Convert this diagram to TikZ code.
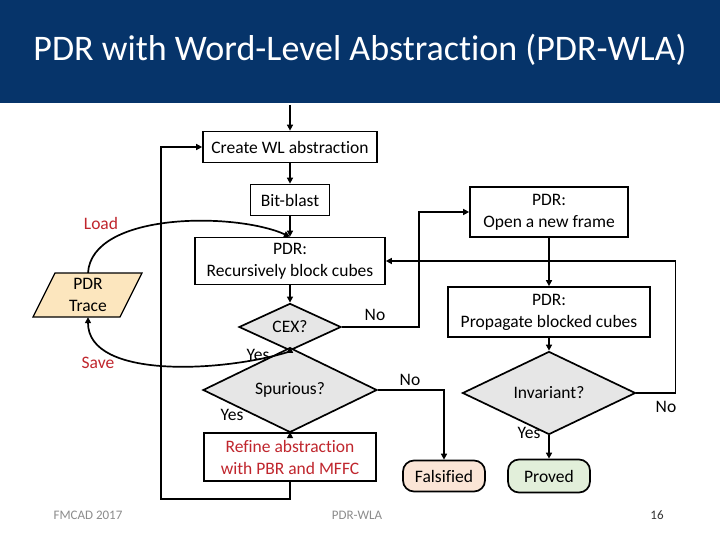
\documentclass[tikz,border=0pt]{standalone}
\usepackage{fontspec}
\setmainfont[Ligatures={NoCommon}]{Carlito}
\usetikzlibrary{shapes.geometric,arrows.meta,calc}
\definecolor{titlebg}{HTML}{06346A}
\definecolor{darkred}{HTML}{C0262D}
\definecolor{diagray}{HTML}{E6E6E6}
\definecolor{peach}{HTML}{FBE5D6}
\definecolor{mint}{HTML}{E2EFDA}
\definecolor{beige}{HTML}{FCE6BE}
\definecolor{footgray}{HTML}{8C8C8C}
\tikzset{
  box/.style={draw, line width=1.7pt, fill=white, align=center, inner sep=0pt, font=\fontsize{17.5}{22}\selectfont},
  dia/.style={diamond, draw, line width=1.7pt, fill=diagray, inner sep=0pt, font=\fontsize{17.5}{22}\selectfont},
  term/.style={draw, line width=1.7pt, rounded corners=11pt, inner sep=0pt, font=\fontsize{17.5}{22}\selectfont},
  lbl/.style={font=\fontsize{17.5}{22}\selectfont},
  redlbl/.style={font=\fontsize{17.5}{22}\selectfont, text=darkred},
  arr/.style={line width=1.7pt, -{Triangle[length=6pt,width=6pt]}},
  foot/.style={font=\fontsize{13}{15}\selectfont, text=footgray},
}
\begin{document}
\begin{tikzpicture}[x=1pt,y=-1pt]
\useasboundingbox (0,0) rectangle (720,540);
\fill[white] (0,0) rectangle (720,540);
\fill[titlebg] (0,0) rectangle (720,103);
\node[text=white, font=\fontsize{36}{40}\selectfont] (title) at (360,50) {PDR with Word-Level Abstraction (PDR-WLA)};

% nodes
\node[box, minimum width=174, minimum height=31] (create) at (290,147) {Create WL abstraction};
\node[box, minimum width=79, minimum height=31] (bitblast) at (290,200) {Bit-blast};
\node[box, minimum width=190, minimum height=47] (recur) at (290,261) {PDR:\\Recursively block cubes};
\node[box, minimum width=158, minimum height=50] (open) at (549,212) {PDR:\\Open a new frame};
\node[box, minimum width=202, minimum height=50] (prop) at (549,312) {PDR:\\Propagate blocked cubes};
\node[dia, minimum width=102, minimum height=45] (cex) at (290,327) {CEX?};
\node[dia, minimum width=174, minimum height=43] (spur) at (290,390) {Spurious?};
\node[dia, minimum width=173, minimum height=42] (inv) at (549,393) {Invariant?};
\node[box, minimum width=172, minimum height=48, text=darkred] (refine) at (290,457) {Refine abstraction\\with PBR and MFFC};
\node[term, fill=peach, minimum width=82, minimum height=31] (fals) at (444,476) {Falsified};
\node[term, fill=mint, minimum width=82, minimum height=33] (proved) at (549,476) {Proved};

% PDR trace parallelogram
\fill[beige, draw=black, line width=1.2pt] (55,273) -- (142,273) -- (120,317) -- (33,317) -- cycle;
\node[lbl, align=center, minimum width=60, minimum height=44, inner sep=0pt] (trace) at (88,295) {PDR\\Trace};

% connectors
\coordinate (start) at (290,105);
\draw[arr] (start) -- (create);
\draw[arr] (create) -- (bitblast);
\draw[arr] (bitblast) -- (recur);
\draw[arr] (recur) -- (cex);
\draw[arr] (cex.east) -| ($(open.west)+(-50,0)$) -- (open.west);
\draw[arr] (open) -- (prop);
\draw[arr] (prop) -- (inv);
\draw[arr] (inv) -- (proved);
\draw[arr] (inv.east) -- ++(39,0) |- (recur.east);
\draw[arr] (cex) -- (spur);
\draw[arr] (spur.east) -| (fals.north);
\draw[arr] (spur) -- (refine);
\draw[arr] (refine.south) -- ++(0,17) -| ($(create.west)+(-41,0)$) -- (create.west);
\draw[arr] (trace.north) .. controls (92,212) and (235,212) .. (recur.north);
\draw[arr] (cex.south) .. controls (225,372) and (88,380) .. (trace.south);

% labels
\node[lbl] (l1) at (375,315) {No};
\node[lbl] (l2) at (258,355) {Yes};
\node[lbl] (l3) at (410,380) {No};
\node[lbl] (l4) at (232,415) {Yes};
\node[lbl] (l5) at (529,433) {Yes};
\node[lbl] (l6) at (666,407) {No};
\node[redlbl] (load) at (101,223) {Load};
\node[redlbl] (save) at (98,363) {Save};

% footer
\node[foot] (f1) at (88,515) {FMCAD 2017};
\node[foot] (f2) at (357,515) {PDR-WLA};
\node[foot, text=black!80] (f3) at (657,515) {16};
\end{tikzpicture}
\end{document}
